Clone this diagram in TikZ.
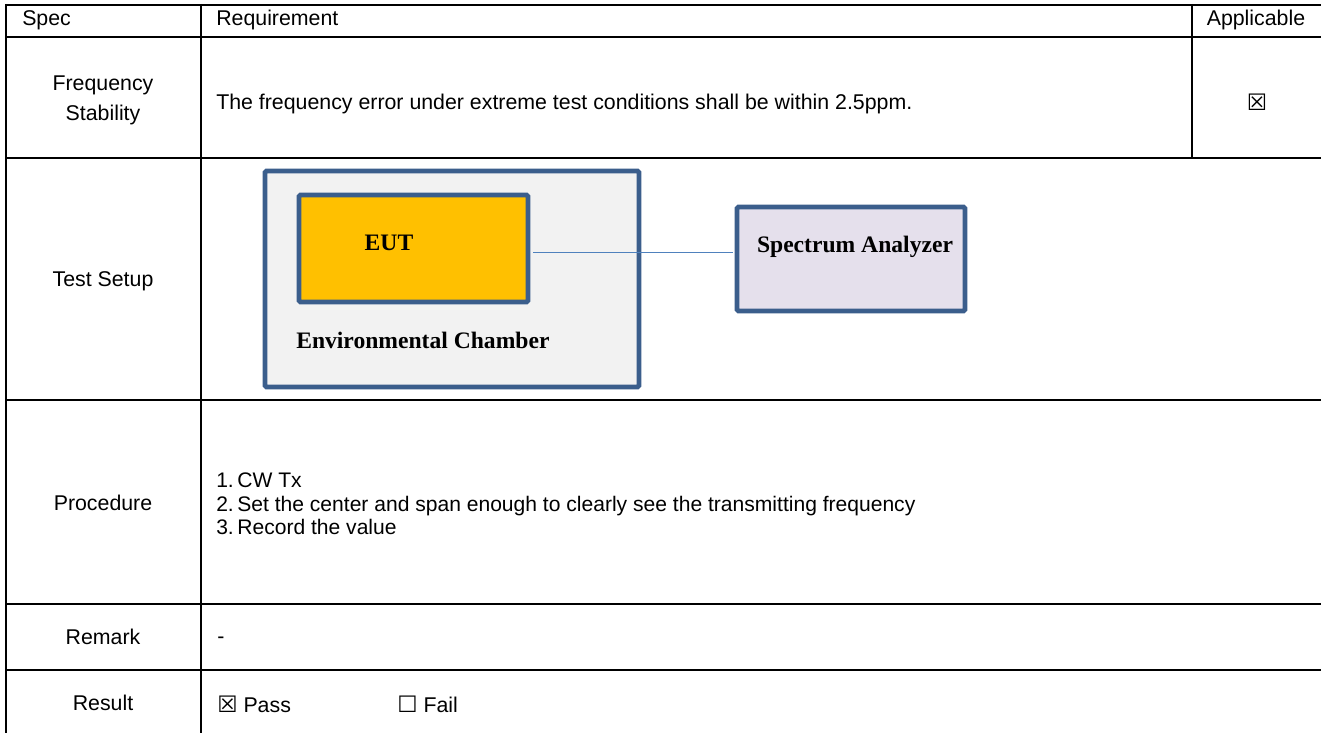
\documentclass[tikz,border=0pt]{standalone}
\usepackage{fontspec}
\setmainfont{Liberation Sans}
\newfontfamily\serifbold{Liberation Serif}[BoldFont={Liberation Serif Bold}]
\newfontfamily\symfnt{DejaVu Sans}
\definecolor{bord}{HTML}{3B5E8C}
\definecolor{eutfill}{HTML}{FFC000}
\definecolor{safill}{HTML}{E5E0EC}
\definecolor{chfill}{HTML}{F2F2F2}
\definecolor{wirec}{HTML}{4F81BD}
\tikzset{
  grid/.style={line width=1.5pt, black},
  cell/.style={font=\fontsize{16}{19}\selectfont, align=center, inner sep=0pt},
  lcell/.style={cell, anchor=west, align=left},
  dbox/.style={draw=bord, line width=3.5pt, rounded corners=1pt, inner sep=0pt},
  dtext/.style={font=\serifbold\bfseries\fontsize{17.7}{20}\selectfont, inner sep=0pt},
  wire/.style={draw=wirec, line width=1.1pt}
}
\begin{document}
\begin{tikzpicture}[x=0.75pt,y=-0.75pt]
\useasboundingbox (0,0) rectangle (1321,733);
% table grid
\draw[grid] (6,4.5) -- (1321,4.5);
\draw[grid] (6,37) -- (1321,37);
\draw[grid] (6,158) -- (1321,158);
\draw[grid] (6,400) -- (1321,400);
\draw[grid] (6,604) -- (1321,604);
\draw[grid] (6,670) -- (1321,670);
\draw[grid] (6,3.75) -- (6,733);
\draw[grid] (201,3.75) -- (201,733);
\draw[grid] (1192,3.75) -- (1192,158);
% header
\node[lcell] (hspec) at (22,20) {Spec};
\node[lcell] (hreq) at (216,20) {Requirement};
\node[cell] (happ) at (1256,20) {Applicable};
% row 1
\node[cell, font=\fontsize{16}{22.5}\selectfont] (spec1) at (103,100) {Frequency\\Stability};
\node[lcell] (req1) at (216,104) {The frequency error under extreme test conditions shall be within 2.5ppm.};
\node[cell] (app1) at (1257,102) {\symfnt\fontsize{17}{19}\selectfont ☒};
% row 2
\node[cell] (spec2) at (103,281) {Test Setup};
\node[dbox, fill=chfill, minimum width=374*0.75pt, minimum height=216*0.75pt] (chamber) at (452,279) {};
\node[dbox, fill=eutfill, minimum width=229*0.75pt, minimum height=107*0.75pt] (eut) at (413.5,248.5) {};
\node[dbox, fill=safill, minimum width=228*0.75pt, minimum height=104*0.75pt] (sa) at (851,259) {};
\node[dtext] (euttext) at (389,243) {EUT};
\node[dtext] (satext) at (855,247) {Spectrum Analyzer};
\node[dtext, anchor=west] (chtext) at (296,340) {Environmental Chamber};
\coordinate (wy) at (0,252.5);
\draw[wire] ([xshift=2pt]eut.east |- wy) -- ([xshift=-1pt]sa.west |- wy);
% row 3
\node[cell] (spec3) at (103,503) {Procedure};
\node[lcell, font=\fontsize{15.8}{17.5}\selectfont] (proc) at (216,504) {1.\,CW Tx\\2.\,Set the center and span enough to clearly see the transmitting frequency\\3.\,Record the value};
% row 4
\node[cell] (spec4) at (103,637) {Remark};
\node[lcell] (rem) at (217,640) {-};
% row 5
\node[cell] (spec5) at (103,703) {Result};
\node[lcell] (pass) at (217,704) {{\symfnt\fontsize{17}{19}\selectfont ☒} Pass};
\node[lcell] (fail) at (397,704) {{\symfnt\fontsize{17}{19}\selectfont ☐} Fail};
\end{tikzpicture}
\end{document}
